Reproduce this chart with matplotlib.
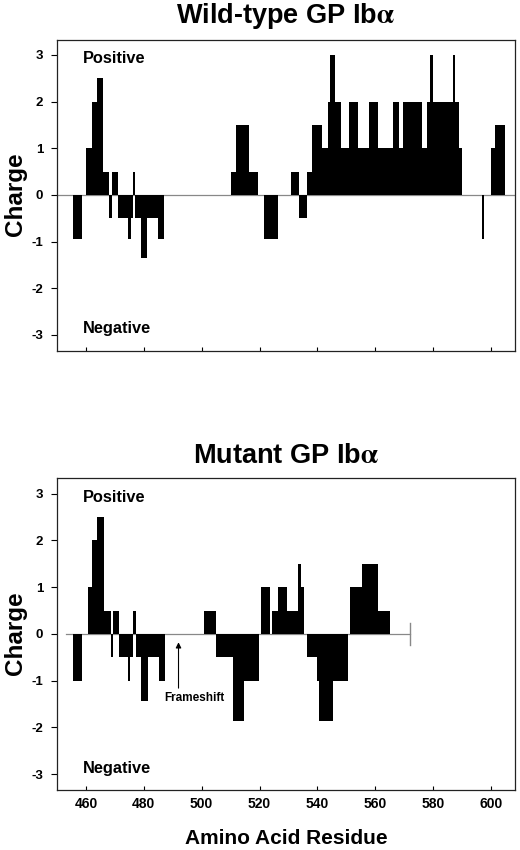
import numpy as np
import matplotlib
matplotlib.use('Agg')
import matplotlib.pyplot as plt

plt.rcParams['font.family'] = ['Liberation Sans', 'DejaVu Sans']
plt.rcParams['font.weight'] = 'bold'
plt.rcParams['mathtext.fontset'] = 'stix'
plt.rcParams['axes.unicode_minus'] = False

# Wild-type charge profile: segment start, segment end, charge
wt_start = [455.5, 460, 462, 464, 466, 468, 469, 471, 474.5, 475.5, 476.3, 477, 479, 481, 485,
            510, 512, 516.5, 521.5, 531, 533.5, 536.5, 538, 541.5, 543.5, 544.2, 546.2, 548,
            551, 554, 558, 561, 566, 568.3, 569.7, 576, 577.8, 579, 580, 586.7, 587.7, 589,
            596.8, 600, 601.5]
wt_end = [458.5, 462, 464, 466, 468, 469, 471, 474.5, 475.5, 476.3, 477, 479, 481, 485, 487,
          512, 516.5, 519.5, 526.5, 533.5, 536.5, 538, 541.5, 543.5, 544.2, 546.2, 548, 551,
          554, 558, 561, 566, 568.3, 569.7, 576, 577.8, 579, 580, 586.7, 587.7, 589, 590,
          597.6, 601.5, 604.8]
wt_charge = [-0.95, 1.0, 2.0, 2.5, 0.5, -0.5, 0.5, -0.5, -0.95, -0.5, 0.5, -0.5, -1.35, -0.5, -0.95,
             0.5, 1.5, 0.5, -0.95, 0.5, -0.5, 0.5, 1.5, 1.0, 2.0, 3.0, 2.0, 1.0,
             2.0, 1.0, 2.0, 1.0, 2.0, 1.0, 2.0, 1.0, 2.0, 3.0, 2.0, 3.0, 2.0, 1.0,
             -0.95, 1.0, 1.5]

# Mutant charge profile
mut_start = [455.5, 460.8, 462.2, 464, 466.3, 468.5, 469.3, 471.5, 474.4, 475.2, 476.4, 477.2,
             479.2, 481.3, 485.2, 500.8, 504.8, 510.8, 514.8, 520.5, 524.4, 526.3, 529.4,
             533.4, 534.4, 536.3, 539.7, 540.7, 545.5, 551.2, 555.4, 561]
mut_end = [458.5, 462.2, 464, 466.3, 468.5, 469.3, 471.5, 474.4, 475.2, 476.4, 477.2, 479.2,
           481.3, 485.2, 487.4, 504.8, 510.8, 514.8, 519.7, 523.6, 526.3, 529.4, 533.4,
           534.4, 535.5, 539.7, 540.7, 545.5, 550.6, 555.4, 561, 565.1]
mut_charge = [-1.0, 1.0, 2.0, 2.5, 0.5, -0.5, 0.5, -0.5, -1.0, -0.5, 0.5, -0.5,
              -1.43, -0.5, -1.0, 0.5, -0.5, -1.87, -1.0, 1.0, 0.5, 1.0, 0.5,
              1.5, 1.0, -0.5, -1.0, -1.87, -1.0, 1.0, 1.5, 0.5]

mut_line_start = 453
mut_line_end = 572
frameshift_pos = 492

x_ticks = [460, 480, 500, 520, 540, 560, 580, 600]
y_ticks = [-3, -2, -1, 0, 1, 2, 3]


def style_axes(ax, show_xlabels):
    ax.set_xlim(450, 608.3)
    ax.set_ylim(-3.34, 3.33)
    ax.set_xticks(x_ticks)
    ax.set_yticks(y_ticks)
    ax.tick_params(axis='x', direction='in', length=3, width=0.8, labelsize=10,
                   labelbottom=show_xlabels, pad=5)
    ax.tick_params(axis='y', direction='out', length=4, width=0.8, labelsize=9.5, pad=6)
    for spine in ax.spines.values():
        spine.set_linewidth(0.9)
        spine.set_color('#222222')
    ax.text(459, 2.92, 'Positive', fontsize=11.8, fontweight='bold', va='center', ha='left')
    ax.text(459, -2.87, 'Negative', fontsize=11.8, fontweight='bold', va='center', ha='left')


fig = plt.figure(figsize=(5.2, 8.5), dpi=100)
ax_wt = fig.add_axes([0.1096, 0.5874, 0.8808, 0.3661])
ax_mut = fig.add_axes([0.1096, 0.0706, 0.8808, 0.3667])

# Wild-type panel
ax_wt.axhline(0, color='#888888', lw=0.9, zorder=1)
ax_wt.bar(x=wt_start, height=wt_charge, width=np.array(wt_end) - np.array(wt_start),
          bottom=0, align='edge', color='black', linewidth=0, zorder=2)
style_axes(ax_wt, False)
ax_wt.set_title(r'Wild-type GP Ib$\mathrm{\alpha}$', fontsize=19.5, fontweight='bold', pad=12)

# Mutant panel
ax_mut.plot([mut_line_start, mut_line_end], [0, 0], color='#888888', lw=0.9, zorder=1)
ax_mut.plot([mut_line_end, mut_line_end], [-0.24, 0.24], color='#888888', lw=1.0, zorder=1)
ax_mut.bar(x=mut_start, height=mut_charge, width=np.array(mut_end) - np.array(mut_start),
           bottom=0, align='edge', color='black', linewidth=0, zorder=2)
ax_mut.annotate('', xy=(frameshift_pos, -0.12), xytext=(frameshift_pos, -1.22),
                arrowprops=dict(arrowstyle='-|>', lw=0.8, color='black', mutation_scale=8))
ax_mut.text(497.5, -1.37, 'Frameshift', fontsize=8.5, fontweight='bold', ha='center', va='center')
style_axes(ax_mut, True)
ax_mut.set_title(r'Mutant GP Ib$\mathrm{\alpha}$', fontsize=19.5, fontweight='bold', pad=11)
ax_mut.set_xlabel('Amino Acid Residue', fontsize=15, fontweight='bold', labelpad=13)

fig.text(0.029, 0.772, 'Charge', rotation=90, fontsize=17.5, fontweight='bold', ha='center', va='center')
fig.text(0.029, 0.255, 'Charge', rotation=90, fontsize=17.5, fontweight='bold', ha='center', va='center')

fig.savefig('out.png', dpi=100)
